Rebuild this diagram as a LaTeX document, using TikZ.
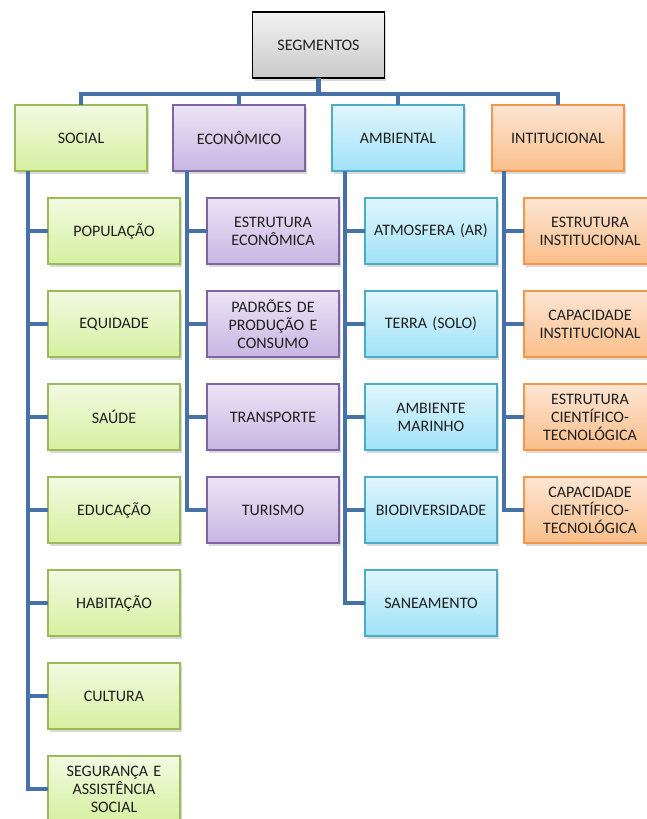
\documentclass[tikz,border=0pt]{standalone}
\usepackage{fontspec}
\setmainfont[WordSpace=0.75]{Carlito}
\usepackage{tikz}
\usetikzlibrary{positioning}
\usetikzlibrary{shadows}
\definecolor{linkblue}{HTML}{4672A8}
\definecolor{txtgray}{HTML}{1E1E1E}
\tikzstyle{box} = [rectangle, minimum width=132pt, minimum height=66pt, text width=125pt, align=center, text=txtgray, line width=1.3pt, outer sep=0pt, font=\fontsize{16}{18}\selectfont, drop shadow={shadow xshift=2pt, shadow yshift=-2.5pt, opacity=0.25, fill=black!60}]
\tikzstyle{topbox} = [box, minimum width=131pt, draw=black, top color=gray!10, bottom color=gray!42]
\tikzstyle{green} = [box, draw={rgb,255:red,155;green,187;blue,89}, top color={rgb,255:red,242;green,250;blue,226}, bottom color={rgb,255:red,214;green,240;blue,160}]
\tikzstyle{purple} = [box, draw={rgb,255:red,128;green,100;blue,162}, top color={rgb,255:red,236;green,228;blue,246}, bottom color={rgb,255:red,200;green,182;blue,226}]
\tikzstyle{cyan} = [box, draw={rgb,255:red,75;green,172;blue,198}, top color={rgb,255:red,224;green,246;blue,253}, bottom color={rgb,255:red,160;green,226;blue,248}]
\tikzstyle{orange} = [box, draw={rgb,255:red,247;green,150;blue,70}, top color={rgb,255:red,253;green,230;blue,212}, bottom color={rgb,255:red,250;green,190;blue,138}]
\tikzstyle{conn} = [draw=linkblue, line width=4.5pt]

\begin{document}
\begin{tikzpicture}[x=1pt, y=1pt, node distance=27pt]
    \useasboundingbox (0,0) rectangle (646,-819);
    \node (seg) [topbox] at (318.5,-45) {SEGMENTOS};

    \node (social) [green] at (81,-138) {SOCIAL};
    \node (econ) [purple, right=26pt of social] {ECONÔMICO};
    \node (amb) [cyan, right=27pt of econ] {AMBIENTAL};
    \node (inst) [orange, right=28pt of amb] {INTITUCIONAL};

    % social
    \node (pop) [green, below=27pt of social, xshift=33pt] {POPULAÇÃO};
    \node (equi) [green, below=of pop] {EQUIDADE};
    \node (saude) [green, below=of equi] {SAÚDE};
    \node (edu) [green, below=of saude] {EDUCAÇÃO};
    \node (hab) [green, below=of edu] {HABITAÇÃO};
    \node (cult) [green, below=of hab] {CULTURA};
    \node (seguranca) [green, below=of cult] {SEGURANÇA E\\ ASSISTÊNCIA\\ SOCIAL};

    % economico
    \node (estrEcon) [purple, below=27pt of econ, xshift=34pt] {ESTRUTURA\\ ECONÔMICA};
    \node (padroes) [purple, below=of estrEcon] {PADRÕES DE\\ PRODUÇÃO E\\ CONSUMO};
    \node (transp) [purple, below=of padroes] {TRANSPORTE};
    \node (turismo) [purple, below=of transp] {TURISMO};

    % ambiental
    \node (atmos) [cyan, below=27pt of amb, xshift=33pt] {ATMOSFERA (AR)};
    \node (terra) [cyan, below=of atmos] {TERRA (SOLO)};
    \node (marinho) [cyan, below=of terra] {AMBIENTE\\ MARINHO};
    \node (biodiv) [cyan, below=of marinho] {BIODIVERSIDADE};
    \node (saneam) [cyan, below=of biodiv] {SANEAMENTO};

    % institucional
    \node (estrInst) [orange, below=27pt of inst, xshift=32pt] {ESTRUTURA\\ INSTITUCIONAL};
    \node (capInst) [orange, below=of estrInst] {CAPACIDADE\\ INSTITUCIONAL};
    \node (estrCient) [orange, below=of capInst] {ESTRUTURA\\ CIENTÍFICO-\\ TECNOLÓGICA};
    \node (capCient) [orange, below=of estrCient] {CAPACIDADE\\ CIENTÍFICO-\\ TECNOLÓGICA};

    \draw [conn] (seg.south) -- ++(0,-16) -| (social.north);
    \draw [conn] (seg.south) -- ++(0,-16) -| (econ.north);
    \draw [conn] (seg.south) -- ++(0,-16) -| (amb.north);
    \draw [conn] (seg.south) -- ++(0,-16) -| (inst.north);

    \foreach \kid in {pop, equi, saude, edu, hab, cult, seguranca}
        \draw [conn] ([xshift=13pt]social.south west) |- (\kid.west);
    \foreach \kid in {estrEcon, padroes, transp, turismo}
        \draw [conn] ([xshift=14pt]econ.south west) |- (\kid.west);
    \foreach \kid in {atmos, terra, marinho, biodiv, saneam}
        \draw [conn] ([xshift=13pt]amb.south west) |- (\kid.west);
    \foreach \kid in {estrInst, capInst, estrCient, capCient}
        \draw [conn] ([xshift=12pt]inst.south west) |- (\kid.west);
\end{tikzpicture}
\end{document}
